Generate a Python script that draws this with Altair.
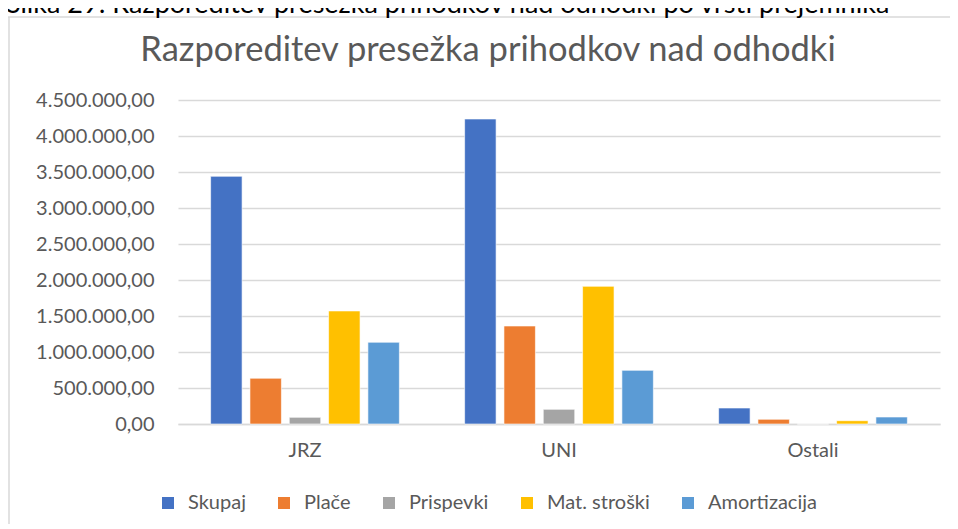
import altair as alt
import pandas as pd

groups = ["JRZ", "UNI", "Ostali"]
series = ["Skupaj", "Plače", "Prispevki", "Mat. stroški", "Amortizacija"]
colors = ["#4472C4", "#ED7D31", "#A5A5A5", "#FFC000", "#5B9BD5"]

skupaj = [3440000, 4236000, 222000]
place = [635000, 1361000, 65000]
prispevki = [93000, 204000, 0]
mat_stroski = [1570000, 1912000, 46000]
amortizacija = [1135000, 745000, 97000]

y_ticks = [0, 500000, 1000000, 1500000, 2000000, 2500000, 3000000, 3500000, 4000000, 4500000]

title_text = "Razporeditev presežka prihodkov nad odhodki"
caption_text = "Slika 29: Razporeditev presežka prihodkov nad odhodki po vrsti prejemnika"

rows = []
for s, vals in zip(series, [skupaj, place, prispevki, mat_stroski, amortizacija]):
    for g, v in zip(groups, vals):
        rows.append({"group": g, "series": s, "value": v})
df = pd.DataFrame(rows)

FONT = "Lato"
GREY = "#595959"
LINE = "#d9d9d9"

label_expr = (
    "replace(replace(replace(format(datum.value, ',.2f'), /,/g, ' '), /\\./g, ','), / /g, '.')"
)

bars = alt.Chart(df).mark_bar(stroke="white", strokeWidth=0.6).encode(
    x=alt.X(
        "group:N",
        sort=groups,
        title=None,
        scale=alt.Scale(paddingInner=0, paddingOuter=0),
        axis=alt.Axis(
            labelAngle=0,
            labelFont=FONT,
            labelFontSize=20,
            labelColor=GREY,
            labelPadding=16,
            ticks=False,
            domain=True,
            domainColor=LINE,
            domainWidth=1.5,
            grid=False,
        ),
    ),
    xOffset=alt.XOffset(
        "series:N",
        sort=series,
        scale=alt.Scale(paddingInner=0.2, paddingOuter=0.83),
    ),
    y=alt.Y(
        "value:Q",
        title=None,
        scale=alt.Scale(domain=[0, 4500000], nice=False),
        axis=alt.Axis(
            values=y_ticks,
            labelExpr=label_expr,
            labelFont=FONT,
            labelFontSize=20,
            labelColor=GREY,
            labelPadding=24,
            ticks=False,
            domain=False,
            grid=True,
            gridColor=LINE,
            gridWidth=1.5,
        ),
    ),
    color=alt.Color(
        "series:N",
        sort=series,
        scale=alt.Scale(domain=series, range=colors),
        legend=alt.Legend(
            title=None,
            orient="none",
            direction="horizontal",
            legendX=-20,
            legendY=393,
            symbolType="square",
            symbolSize=144,
            symbolStrokeWidth=0,
            labelFont=FONT,
            labelFontSize=20,
            labelColor=GREY,
            labelOffset=10,
            columnPadding=28,
        ),
    ),
)

one = pd.DataFrame({"a": [0]})

title_mark = alt.Chart(pd.DataFrame({"t": [title_text]})).mark_text(
    align="center", baseline="alphabetic", font=FONT, fontSize=34.5, color=GREY
).encode(x=alt.value(310), y=alt.value(-39), text="t:N")

caption = alt.Chart(pd.DataFrame({"t": [caption_text]})).mark_text(
    align="left", baseline="alphabetic", font=FONT, fontSize=27, color="black"
).encode(x=alt.value(-172), y=alt.value(-87), text="t:N")

box_top = alt.Chart(one).mark_rule(color=LINE, strokeWidth=1.5).encode(
    x=alt.value(-170), x2=alt.value(772), y=alt.value(-83)
)
box_left = alt.Chart(one).mark_rule(color=LINE, strokeWidth=1.5).encode(
    x=alt.value(-169), y=alt.value(-83), y2=alt.value(440)
)

chart = alt.layer(box_top, box_left, caption, title_mark, bars).properties(
    width=762,
    height=324,
    autosize=alt.AutoSizeParams(type="none"),
    padding={"left": 170, "top": 92, "right": 10, "bottom": 100},
).configure_view(stroke=None)

chart.save("out.html", embed_options={"renderer": "svg", "actions": False})
